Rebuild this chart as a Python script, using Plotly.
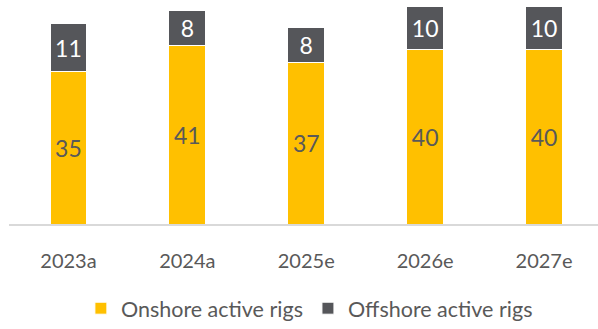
import plotly.graph_objects as go

categories = ["2023a", "2024a", "2025e", "2026e", "2027e"]
onshore = [35, 41, 37, 40, 40]
offshore = [11, 8, 8, 10, 10]

YELLOW = "#FFC000"
DARK = "#55565A"
GREY_TXT = "#595959"
FONT = "Lato, Open Sans, sans-serif"

fig = go.Figure()
fig.add_trace(go.Bar(
    x=categories, y=onshore, name="Onshore active rigs",
    marker=dict(color=YELLOW, line=dict(color="white", width=1)),
    text=onshore, textposition="inside", insidetextanchor="middle",
    textfont=dict(color=GREY_TXT, size=23, family=FONT), width=0.31,
))
fig.add_trace(go.Bar(
    x=categories, y=offshore, name="Offshore active rigs",
    marker=dict(color=DARK, line=dict(color="white", width=1)),
    text=offshore, textposition="inside", insidetextanchor="middle",
    textfont=dict(color="white", size=23, family=FONT), width=0.31,
))

fig.update_layout(
    barmode="stack",
    width=598, height=329,
    margin=dict(l=9, r=0, t=0, b=100),
    paper_bgcolor="white", plot_bgcolor="white",
    font=dict(family=FONT, color=GREY_TXT, size=20),
    uniformtext=dict(minsize=10, mode="show"),
    xaxis=dict(
        range=[-0.5, 4.454], showline=True, linecolor="#D9D9D9", linewidth=2,
        ticks="", showgrid=False, tickfont=dict(size=20, color=GREY_TXT, family=FONT),
        ticklabelstandoff=18, fixedrange=True,
    ),
    yaxis=dict(range=[0, 51.4], visible=False, showgrid=False, fixedrange=True),
    legend=dict(
        orientation="h", x=0.51, xanchor="center", y=-0.376, yanchor="middle",
        font=dict(size=21.5, color=GREY_TXT, family=FONT), traceorder="normal",
        itemwidth=30,
    ),
    showlegend=True,
)

fig.write_html("out.html")
